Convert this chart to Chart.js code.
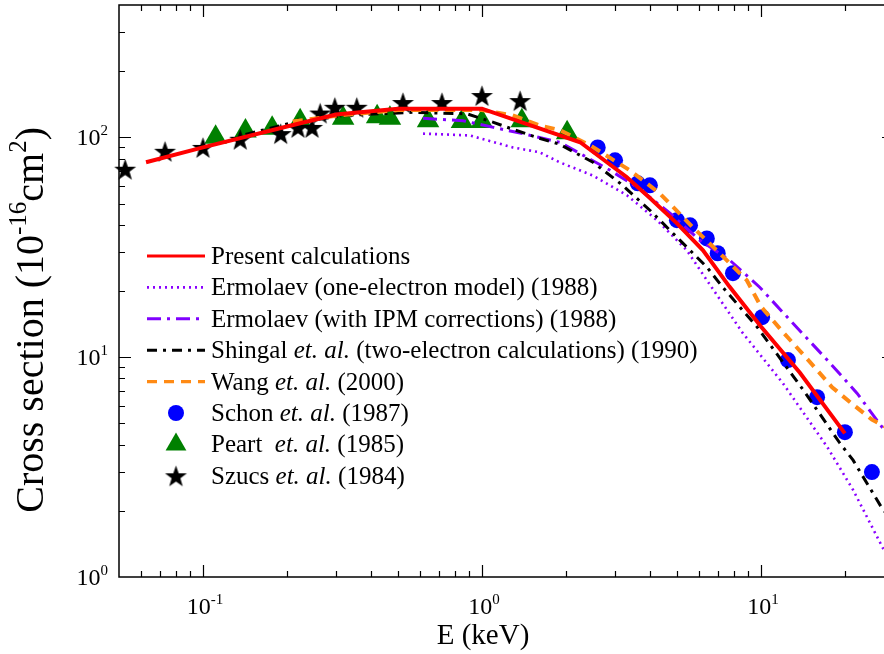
<!DOCTYPE html>
<html>
<head>
<meta charset="utf-8">
<script src="https://cdn.jsdelivr.net/npm/chart.js@4"></script>
<style>
  body { margin: 0; overflow: hidden; background: #fff; }
</style>
</head>
<body>
<canvas id="chart" width="900" height="654"></canvas>
<script>
// Present calculations
const presentE = [0.0625, 0.1, 0.2, 0.3, 0.5, 1.0, 2.25, 3.3, 4, 5, 6.2, 7.7, 10, 13.8, 20];
const presentSigma = [77, 90, 112, 127, 135, 135, 95, 66, 53, 40.6, 30.6, 21, 13.8, 8.5, 4.5];

// Ermolaev (one-electron model) (1988)
const ermOneE = [0.615, 0.905, 1.29, 1.61, 1.9, 2.5, 3.31, 4.24, 5.43, 6.4, 8.6, 12, 17.3, 21.4, 27.4, 30];
const ermOneSigma = [104, 102, 90, 85.5, 77, 67, 54.5, 42, 30.6, 22.4, 12.9, 7.6, 3.9, 2.49, 1.35, 1.2];

// Ermolaev (with IPM corrections) (1988)
const ermIpmE = [0.615, 0.855, 1.1, 1.4, 1.9, 2.24, 2.88, 3.6, 4.72, 6.04, 7.74, 9.9, 13, 17.7, 22.1, 27.2, 30];
const ermIpmSigma = [122, 119, 111, 104, 94.9, 84.6, 70.8, 59.3, 45.2, 34, 27.6, 20.8, 14.3, 9.4, 6.86, 4.8, 4.3];

// Shingal et. al. (1990)
const shingalE = [0.142, 0.205, 0.328, 0.566, 0.883, 1.1, 1.26, 1.57, 1.9, 2.5, 3.13, 4.0, 5.13, 6.4, 7.3, 9.7, 14.2, 19.2, 21.4, 27.4, 30];
const shingalSigma = [103, 116, 126, 130, 128, 117, 110, 100, 93, 77, 61.8, 46.6, 34, 25.7, 20.8, 13.7, 7.08, 4.06, 3.4, 2.02, 1.8];

// Wang et. al. (2000)
const wangE = [0.21, 0.31, 0.5, 1.0, 1.29, 1.62, 1.9, 2.44, 3.39, 4.34, 5.7, 7.12, 8.9, 10, 12, 15, 18, 21, 25, 30];
const wangSigma = [118, 126, 133, 133, 126, 113, 108, 92, 70.8, 55.6, 39, 29.7, 22.4, 17, 13, 9.5, 7.3, 6.2, 5.2, 4.6];

// Schon et. al. (1987)
const schonE = [2.6, 3.0, 3.62, 4.0, 5.0, 5.57, 6.4, 7.0, 7.94, 10.1, 12.5, 15.9, 20, 25];
const schonSigma = [90, 78.6, 61.8, 60.5, 42, 39.8, 34.7, 29.7, 24.1, 15.2, 9.7, 6.58, 4.56, 3.0];

// Peart et. al. (1985)
const peartE = [0.111, 0.142, 0.177, 0.223, 0.318, 0.421, 0.468, 0.641, 0.848, 1.0, 1.39, 2.02];
const peartSigma = [100, 107, 110, 119, 122, 124, 122, 119, 118, 118, 119, 105];

// Szucs et. al. (1984)
const szucsE = [0.0526, 0.0731, 0.1, 0.136, 0.19, 0.219, 0.246, 0.263, 0.297, 0.356, 0.521, 0.719, 1.0, 1.37];
const szucsSigma = [71.6, 86.4, 90, 98, 104, 111, 111, 129, 137, 137, 144, 144, 155, 147];

// axis ticks
const xMajor = [0.1, 1, 10];
const xMajorExp = ['-1', '0', '1'];
const yMajor = [1, 10, 100];
const yMajorExp = ['0', '1', '2'];

const FONT = '"Liberation Serif", "Times New Roman", serif';

const toPoints = (xs, ys) => xs.map((x, i) => ({ x: x, y: ys[i] }));

function makeStar(outer, inner, color) {
    const s = Math.ceil(outer * 2 + 2);
    const c = document.createElement('canvas');
    c.width = s;
    c.height = s;
    const g = c.getContext('2d');
    g.fillStyle = color;
    g.beginPath();
    for (let i = 0; i < 10; i++) {
        const r = i % 2 === 0 ? outer : inner;
        const a = -Math.PI / 2 + i * Math.PI / 5;
        const px = s / 2 + r * Math.cos(a);
        const py = s / 2 + outer * 0.1 + r * Math.sin(a);
        if (i === 0) g.moveTo(px, py); else g.lineTo(px, py);
    }
    g.closePath();
    g.fill();
    return c;
}
const starImg = makeStar(11.5, 4.6, '#000');

const lineStyles = {
    present: { color: '#ff0000', width: 4, dash: [] },
    ermOne: { color: '#8a00ff', width: 2.6, dash: [2, 4] },
    ermIpm: { color: '#8000ff', width: 3, dash: [14, 6, 3, 6] },
    shingal: { color: '#000000', width: 3, dash: [10, 6, 3, 6] },
    wang: { color: '#ff8a14', width: 4, dash: [10, 7] }
};

function lineSet(label, xs, ys, st, order) {
    return {
        label: label,
        data: toPoints(xs, ys),
        showLine: true,
        borderColor: st.color,
        borderWidth: st.width,
        borderDash: st.dash,
        pointRadius: 0,
        fill: false,
        order: order
    };
}

// draws text made of pieces: plain, italic, superscript
function fontFor(p, size) {
    const s = p.sup ? Math.round(size * 0.62) : size;
    return (p.it ? 'italic ' : '') + s + 'px ' + FONT;
}
function richWidth(ctx, parts, size) {
    let w = 0;
    parts.forEach(p => { ctx.font = fontFor(p, size); w += ctx.measureText(p.t).width; });
    return w;
}
function drawRich(ctx, parts, x, y, size) {
    let cx = x;
    parts.forEach(p => {
        ctx.font = fontFor(p, size);
        ctx.fillText(p.t, cx, p.sup ? y - size * 0.42 : y);
        cx += ctx.measureText(p.t).width;
    });
}

const legendRows = [
    { kind: 'line', st: lineStyles.present, parts: [{ t: 'Present calculations' }] },
    { kind: 'line', st: lineStyles.ermOne, parts: [{ t: 'Ermolaev (one-electron model) (1988)' }] },
    { kind: 'line', st: lineStyles.ermIpm, parts: [{ t: 'Ermolaev (with IPM corrections) (1988)' }] },
    { kind: 'line', st: lineStyles.shingal, parts: [{ t: 'Shingal ' }, { t: 'et. al.', it: true }, { t: ' (two-electron calculations) (1990)' }] },
    { kind: 'line', st: lineStyles.wang, parts: [{ t: 'Wang ' }, { t: 'et. al.', it: true }, { t: ' (2000)' }] },
    { kind: 'circle', parts: [{ t: 'Schon ' }, { t: 'et. al.', it: true }, { t: ' (1987)' }] },
    { kind: 'triangle', parts: [{ t: 'Peart  ' }, { t: 'et. al.', it: true }, { t: ' (1985)' }] },
    { kind: 'star', parts: [{ t: 'Szucs ' }, { t: 'et. al.', it: true }, { t: ' (1984)' }] }
];

const framePlugin = {
    id: 'frame',
    afterDraw(chart) {
        const ctx = chart.ctx;
        const a = chart.chartArea;
        const xs = chart.scales.x;
        const ys = chart.scales.y;
        ctx.save();
        ctx.strokeStyle = '#000';
        ctx.fillStyle = '#000';
        ctx.lineWidth = 1.5;
        ctx.setLineDash([]);
        ctx.strokeRect(a.left, a.top, a.right - a.left, a.bottom - a.top);

        // inward ticks on all four sides
        ctx.lineWidth = 1.2;
        ctx.beginPath();
        for (let d = -2; d <= 1; d++) {
            for (let m = 1; m <= 9; m++) {
                const v = m * Math.pow(10, d);
                if (v <= xs.min || v >= xs.max) continue;
                const px = Math.round(xs.getPixelForValue(v)) + 0.5;
                const len = m === 1 ? 12 : 6;
                ctx.moveTo(px, a.bottom); ctx.lineTo(px, a.bottom - len);
                ctx.moveTo(px, a.top); ctx.lineTo(px, a.top + len);
            }
        }
        for (let d = 0; d <= 2; d++) {
            for (let m = 1; m <= 9; m++) {
                const v = m * Math.pow(10, d);
                if (v <= ys.min || v >= ys.max) continue;
                const py = Math.round(ys.getPixelForValue(v)) + 0.5;
                const len = m === 1 ? 12 : 6;
                ctx.moveTo(a.left, py); ctx.lineTo(a.left + len, py);
                ctx.moveTo(a.right, py); ctx.lineTo(a.right - len, py);
            }
        }
        ctx.stroke();

        // tick labels
        ctx.textBaseline = 'alphabetic';
        xMajor.forEach((v, i) => {
            const parts = [{ t: '10' }, { t: xMajorExp[i], sup: true }];
            const w = richWidth(ctx, parts, 24);
            drawRich(ctx, parts, xs.getPixelForValue(v) - w / 2 + 2, 614, 24);
        });
        yMajor.forEach((v, i) => {
            const parts = [{ t: '10' }, { t: yMajorExp[i], sup: true }];
            const w = richWidth(ctx, parts, 24);
            drawRich(ctx, parts, 108 - w, ys.getPixelForValue(v) + 8, 24);
        });

        // axis titles
        const xt = [{ t: 'E (keV)' }];
        const xw = richWidth(ctx, xt, 29);
        drawRich(ctx, xt, 483 - xw / 2, 644, 29);

        const yt = [{ t: 'Cross section (10' }, { t: '-16', sup: true }, { t: 'cm' }, { t: '2', sup: true }, { t: ')' }];
        const yw = richWidth(ctx, yt, 40);
        ctx.save();
        ctx.translate(43, 127 + yw);
        ctx.rotate(-Math.PI / 2);
        drawRich(ctx, yt, 0, 0, 40);
        ctx.restore();

        // legend
        legendRows.forEach((row, i) => {
            const y = 256 + i * 31.4;
            if (row.kind === 'line') {
                ctx.strokeStyle = row.st.color;
                ctx.lineWidth = Math.min(row.st.width, 3.2);
                ctx.setLineDash(row.st.dash);
                ctx.beginPath();
                ctx.moveTo(147, y);
                ctx.lineTo(205, y);
                ctx.stroke();
                ctx.setLineDash([]);
            } else if (row.kind === 'circle') {
                ctx.fillStyle = '#0000ff';
                ctx.beginPath();
                ctx.arc(176, y, 8, 0, Math.PI * 2);
                ctx.fill();
            } else if (row.kind === 'triangle') {
                const r = 12;
                ctx.fillStyle = '#008000';
                ctx.beginPath();
                ctx.moveTo(176, y - r);
                ctx.lineTo(176 + r * 0.866, y + r / 2);
                ctx.lineTo(176 - r * 0.866, y + r / 2);
                ctx.closePath();
                ctx.fill();
            } else {
                ctx.drawImage(starImg, 176 - starImg.width / 2, y - starImg.height / 2);
            }
            ctx.fillStyle = '#000';
            drawRich(ctx, row.parts, 211, y + 8, 25);
        });
        ctx.restore();
    }
};

const ctx = document.getElementById('chart').getContext('2d');

const crossSectionChart = new Chart(ctx, {
    type: 'scatter',
    data: {
        datasets: [
            lineSet('Present calculations', presentE, presentSigma, lineStyles.present, 0),
            lineSet('Wang et. al. (2000)', wangE, wangSigma, lineStyles.wang, 1),
            lineSet('Shingal et. al. (1990)', shingalE, shingalSigma, lineStyles.shingal, 2),
            lineSet('Ermolaev (with IPM corrections) (1988)', ermIpmE, ermIpmSigma, lineStyles.ermIpm, 3),
            lineSet('Ermolaev (one-electron model) (1988)', ermOneE, ermOneSigma, lineStyles.ermOne, 4),
            {
                label: 'Szucs et. al. (1984)',
                data: toPoints(szucsE, szucsSigma),
                pointStyle: starImg,
                pointRadius: 11,
                clip: false,
                order: 5
            },
            {
                label: 'Peart et. al. (1985)',
                data: toPoints(peartE, peartSigma),
                pointStyle: 'triangle',
                pointRadius: 13,
                backgroundColor: '#008000',
                borderColor: '#008000',
                borderWidth: 0,
                clip: false,
                order: 6
            },
            {
                label: 'Schon et. al. (1987)',
                data: toPoints(schonE, schonSigma),
                pointStyle: 'circle',
                pointRadius: 8,
                backgroundColor: '#0000ff',
                borderColor: '#0000ff',
                borderWidth: 0,
                clip: false,
                order: 7
            }
        ]
    },
    options: {
        responsive: false,
        animation: false,
        events: [],
        layout: { autoPadding: false, padding: { left: 119, top: 5, right: 6, bottom: 77 } },
        scales: {
            x: { type: 'logarithmic', min: 0.05, max: 30, display: false },
            y: { type: 'logarithmic', min: 1, max: 400, display: false }
        },
        plugins: {
            legend: { display: false },
            tooltip: { enabled: false }
        }
    },
    plugins: [framePlugin]
});
</script>
</body>
</html>
